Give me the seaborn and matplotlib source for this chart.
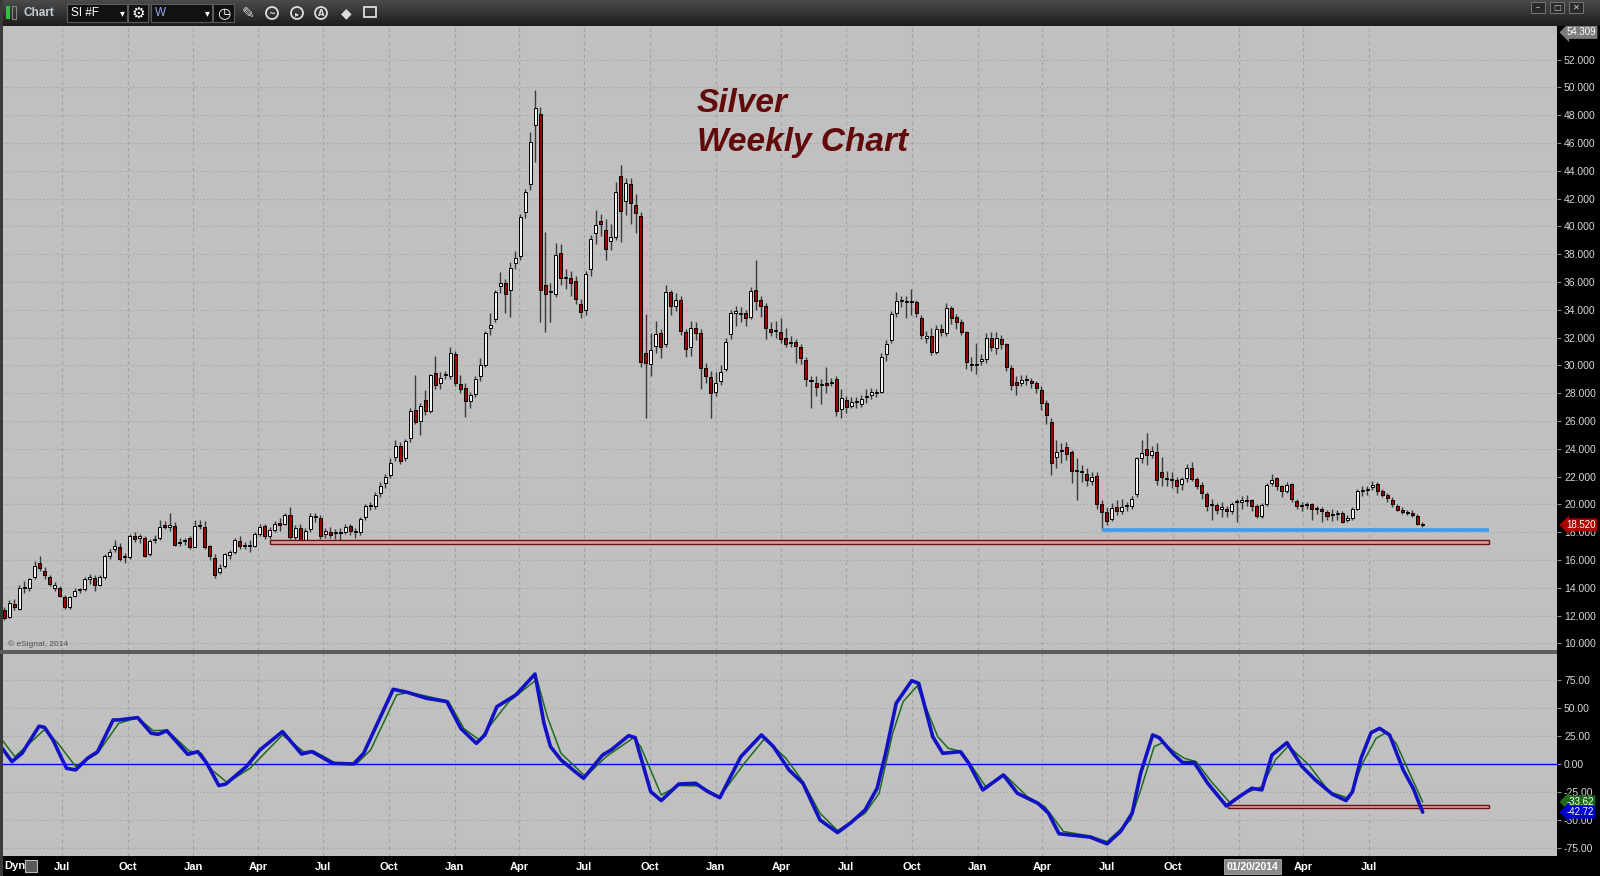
import numpy as np
import pandas as pd
import matplotlib
matplotlib.use("Agg")
import matplotlib.pyplot as plt
import matplotlib.dates as mdates
import matplotlib.transforms as mtrans
from matplotlib.patches import Rectangle, Circle
from matplotlib.colors import LinearSegmentedColormap
from matplotlib.ticker import FormatStrFormatter
import seaborn as sns

# ---- weekly SI #F candles, first bar = week of 2009-04-12 ----
first_week = "2009-04-12"
opens = [12.4, 11.9, 12.8, 12.5, 14.0, 14.0, 14.8, 15.75, 15.2, 14.8,
         14.0, 14.0, 13.35, 12.65, 13.4, 13.85, 13.9, 14.6, 14.7, 14.2,
         14.8, 16.3, 16.8, 16.9, 16.25, 16.2, 17.7, 17.6, 17.6, 16.4,
         17.4, 17.55, 18.5, 18.35, 18.45, 17.25, 17.35, 17.55, 16.95, 18.5,
         18.4, 17.0, 16.15, 15.15, 15.6, 16.35, 16.55, 17.35, 17.0, 17.05,
         17.0, 17.85, 18.45, 17.7, 18.15, 18.65, 18.6, 19.25, 17.65, 18.3,
         17.4, 18.25, 19.1, 19.0, 17.9, 18.0, 17.95, 18.0, 18.0, 18.45,
         18.05, 18.0, 19.1, 19.85, 19.9, 20.85, 21.5, 22.1, 23.4, 24.2,
         23.3, 24.8, 26.8, 26.0, 27.5, 26.75, 29.45, 28.7, 29.3, 29.2,
         30.8, 28.65, 28.4, 27.4, 27.95, 29.2, 30.0, 32.7, 33.3, 35.7,
         35.9, 35.4, 37.35, 37.9, 41.0, 43.05, 47.3, 48.1, 35.8, 35.3,
         35.1, 38.05, 36.35, 36.25, 36.05, 34.4, 34.0, 36.9, 39.5, 40.4,
         39.7, 38.95, 39.2, 43.65, 41.85, 43.05, 41.5, 40.75, 30.9, 30.1,
         31.4, 32.3, 31.55, 35.25, 34.25, 34.7, 32.4, 31.35, 32.7, 32.3,
         29.8, 29.15, 28.05, 28.9, 29.75, 32.25, 33.8, 33.75, 33.75, 33.45,
         35.45, 34.7, 34.3, 32.6, 32.45, 32.4, 31.95, 31.6, 31.65, 31.3,
         30.35, 28.85, 28.7, 28.55, 28.7, 28.75, 29.0, 26.85, 27.5, 27.1,
         27.35, 27.2, 27.7, 27.85, 28.0, 28.1, 30.85, 31.8, 33.8, 34.6,
         34.6, 34.6, 34.55, 33.4, 32.0, 32.1, 30.95, 32.6, 32.3, 34.1,
         33.5, 33.1, 32.4, 30.0, 30.05, 30.3, 30.45, 31.95, 31.25, 31.9,
         31.5, 29.8, 28.8, 28.75, 28.95, 28.9, 28.7, 28.2, 27.3, 25.9,
         23.4, 23.85, 24.15, 23.75, 22.4, 22.35, 22.2, 21.65, 22.05, 20.0,
         19.45, 18.95, 19.8, 19.55, 19.85, 19.9, 20.75, 23.3, 24.0, 23.55,
         23.8, 22.3, 21.85, 21.8, 21.75, 21.45, 21.9, 22.6, 21.85, 21.4,
         20.75, 19.95, 19.95, 19.7, 19.65, 19.5, 20.15, 20.2, 20.25, 20.3,
         19.9, 19.15, 20.0, 21.5, 21.9, 21.3, 20.95, 21.45, 20.25, 19.9,
         20.0, 20.0, 19.7, 19.7, 19.45, 19.25, 19.3, 19.4, 18.9, 19.05,
         19.7, 20.95, 21.05, 21.25, 21.45, 20.95, 20.65, 20.3, 19.9, 19.6,
         19.45, 19.4, 19.15, 18.55]
closes = [11.8, 12.9, 12.6, 14.0, 14.05, 14.6, 15.6, 15.45, 14.9, 14.25,
          14.2, 13.4, 12.65, 13.35, 13.8, 13.9, 14.6, 14.75, 14.2, 14.8,
          16.3, 16.6, 17.0, 16.1, 16.2, 17.7, 17.5, 17.75, 16.3, 17.35,
          17.45, 18.4, 18.35, 18.5, 17.1, 17.2, 17.4, 16.9, 18.45, 18.45,
          16.95, 16.25, 14.9, 15.45, 16.4, 16.55, 17.4, 17.0, 17.05, 17.0,
          17.85, 18.35, 17.7, 18.15, 18.6, 18.5, 19.2, 17.65, 18.3, 17.4,
          18.1, 19.15, 19.15, 17.75, 18.05, 17.8, 18.0, 17.95, 18.35, 18.1,
          18.0, 18.95, 19.85, 19.9, 20.7, 21.3, 22.0, 23.0, 24.2, 23.15,
          24.55, 26.7, 25.9, 27.1, 26.7, 29.3, 28.6, 29.1, 29.35, 30.9,
          28.7, 28.3, 27.4, 27.9, 29.05, 30.0, 32.3, 32.9, 35.3, 35.9,
          35.1, 37.0, 37.7, 40.7, 42.5, 46.05, 48.5, 35.4, 35.1, 35.25,
          37.95, 36.3, 36.3, 35.9, 34.75, 33.85, 36.6, 39.1, 40.1, 40.2,
          38.35, 39.2, 42.5, 41.1, 43.1, 41.7, 40.95, 30.25, 30.2, 31.1,
          32.25, 31.35, 35.3, 34.25, 34.7, 32.5, 31.2, 32.7, 32.35, 29.8,
          29.2, 28.0, 28.7, 29.55, 31.7, 33.8, 33.85, 33.7, 33.4, 35.35,
          34.65, 34.3, 32.7, 32.4, 32.5, 31.9, 31.55, 31.65, 31.4, 30.5,
          29.0, 28.9, 28.45, 28.6, 28.55, 28.8, 26.7, 27.65, 27.0, 27.35,
          27.4, 27.55, 27.75, 28.1, 28.05, 30.6, 31.5, 33.7, 34.6, 34.65,
          34.55, 34.55, 33.75, 32.15, 32.05, 30.95, 32.6, 32.4, 34.1, 33.4,
          33.15, 32.4, 30.25, 30.05, 30.1, 30.45, 32.0, 31.3, 31.95, 31.55,
          29.9, 28.55, 28.55, 28.95, 29.0, 28.75, 28.35, 27.3, 26.4, 23.0,
          23.75, 23.9, 23.65, 22.4, 22.45, 22.3, 21.75, 21.95, 20.0, 19.45,
          18.8, 19.75, 19.55, 19.8, 19.9, 20.35, 23.3, 23.7, 23.55, 23.85,
          21.75, 22.0, 21.9, 21.75, 21.35, 21.85, 22.6, 21.85, 21.3, 20.8,
          19.85, 20.0, 19.6, 19.75, 19.5, 20.0, 20.2, 20.25, 20.3, 19.85,
          19.15, 19.95, 21.4, 21.75, 21.3, 20.95, 21.4, 20.35, 19.85, 19.95,
          19.95, 19.65, 19.65, 19.55, 19.15, 19.3, 19.35, 18.75, 19.05, 19.65,
          20.95, 21.0, 21.1, 21.4, 20.95, 20.7, 20.45, 20.0, 19.6, 19.45,
          19.35, 19.25, 18.6, 18.52]
highs = [12.6, 13.1, 13.2, 14.2, 14.5, 14.7, 15.9, 16.25, 15.5, 14.9,
         14.4, 14.1, 13.5, 13.4, 14.0, 14.0, 14.8, 15.0, 14.9, 14.9,
         16.4, 16.8, 17.4, 17.2, 16.5, 17.9, 18.0, 17.9, 17.7, 17.5,
         17.8, 18.9, 18.8, 19.4, 18.7, 17.6, 17.6, 17.7, 18.9, 18.85,
         18.8, 17.1, 16.4, 15.7, 16.5, 16.7, 17.6, 17.7, 17.3, 17.4,
         18.0, 18.6, 18.6, 18.4, 18.8, 19.0, 19.4, 19.8, 18.5, 18.6,
         18.3, 19.4, 19.4, 19.2, 18.3, 18.4, 18.2, 18.3, 18.6, 18.6,
         18.3, 19.1, 20.0, 20.2, 20.9, 21.6, 22.2, 23.3, 24.6, 24.5,
         24.7, 26.9, 29.3, 27.3, 28.2, 29.4, 30.7, 29.5, 29.6, 31.3,
         31.0, 29.3, 28.7, 28.1, 29.2, 30.5, 32.5, 33.8, 35.4, 36.7,
         36.2, 37.4, 38.2, 40.9, 42.7, 46.8, 49.8, 48.6, 39.6, 35.9,
         38.8, 38.7, 36.9, 36.8, 36.4, 34.8, 36.8, 39.4, 41.2, 40.9,
         40.5, 40.2, 43.2, 44.4, 43.5, 43.5, 42.3, 41.0, 33.7, 32.3,
         33.2, 32.6, 35.8, 35.4, 35.2, 35.0, 32.6, 33.2, 33.1, 32.6,
         30.2, 29.6, 29.5, 30.0, 32.0, 34.0, 34.3, 34.2, 34.0, 35.6,
         37.6, 35.0, 34.5, 33.1, 33.2, 33.4, 32.7, 32.1, 31.9, 31.5,
         30.6, 29.2, 29.2, 29.0, 29.9, 29.1, 29.2, 28.3, 27.8, 27.7,
         27.7, 27.9, 28.3, 28.4, 28.3, 30.9, 31.8, 33.9, 35.25, 35.0,
         35.0, 35.5, 34.7, 33.6, 32.5, 32.7, 32.9, 33.0, 34.5, 34.3,
         33.7, 33.3, 32.5, 30.6, 31.6, 30.8, 32.3, 32.4, 32.4, 32.2,
         31.6, 30.0, 29.2, 29.3, 29.3, 29.1, 28.9, 28.5, 27.5, 26.2,
         24.6, 24.4, 24.5, 23.9, 23.3, 22.8, 22.6, 22.3, 22.3, 20.3,
         19.8, 20.1, 20.3, 20.4, 20.2, 20.6, 23.4, 24.6, 25.1, 24.2,
         24.4, 23.4, 22.4, 22.3, 22.0, 22.0, 22.9, 23.05, 22.0, 21.6,
         20.9, 20.4, 20.1, 20.2, 19.9, 20.2, 20.4, 20.6, 20.7, 20.4,
         20.0, 20.1, 21.5, 22.2, 22.0, 21.4, 21.6, 21.5, 20.4, 20.2,
         20.2, 20.1, 19.9, 19.8, 19.6, 19.7, 19.6, 19.5, 19.2, 19.8,
         21.1, 21.3, 21.3, 21.7, 21.6, 21.1, 20.8, 20.5, 20.0, 19.8,
         19.6, 19.6, 19.3, 18.7]
lows = [11.7, 11.8, 12.4, 12.4, 13.6, 13.8, 14.6, 15.2, 14.6, 14.1,
        13.8, 13.3, 12.5, 12.5, 13.3, 13.6, 13.8, 14.3, 13.8, 14.1,
        14.6, 16.1, 16.6, 15.9, 15.8, 16.1, 17.3, 17.2, 16.2, 16.3,
        17.2, 17.4, 18.2, 18.1, 17.0, 17.0, 17.1, 16.8, 16.9, 18.2,
        16.8, 16.0, 14.7, 15.0, 15.4, 16.1, 16.4, 16.8, 16.8, 16.6,
        16.9, 17.7, 17.5, 17.5, 18.0, 18.1, 18.5, 17.5, 17.4, 17.2,
        17.3, 18.0, 18.7, 17.5, 17.6, 17.6, 17.5, 17.4, 17.9, 17.8,
        17.6, 17.8, 18.9, 19.6, 19.7, 20.5, 21.2, 21.9, 23.1, 22.9,
        23.1, 24.5, 25.8, 25.0, 26.4, 26.6, 28.3, 28.3, 29.0, 29.0,
        28.5, 28.0, 26.3, 26.9, 27.7, 28.9, 29.9, 32.2, 33.1, 35.2,
        33.8, 33.5, 36.9, 37.6, 40.6, 42.6, 44.6, 33.1, 32.4, 33.1,
        34.9, 35.8, 35.5, 35.0, 34.4, 33.4, 33.6, 36.4, 38.7, 39.3,
        37.6, 38.3, 39.0, 38.9, 40.8, 40.2, 39.5, 29.9, 26.2, 29.2,
        30.9, 30.5, 31.3, 33.6, 33.9, 32.2, 30.6, 30.7, 31.8, 28.3,
        28.7, 26.2, 27.8, 28.6, 29.6, 31.9, 32.8, 33.1, 32.8, 33.3,
        34.0, 33.5, 31.9, 32.1, 32.0, 31.6, 31.3, 31.3, 30.2, 30.1,
        28.5, 26.9, 27.8, 27.2, 28.0, 28.5, 26.35, 26.2, 26.6, 26.9,
        26.9, 27.0, 27.3, 27.6, 27.7, 28.0, 30.3, 31.6, 33.5, 34.2,
        33.4, 33.6, 33.5, 31.9, 31.6, 30.75, 30.8, 32.1, 32.1, 33.0,
        32.6, 32.2, 29.7, 29.6, 29.35, 30.0, 30.2, 31.0, 30.8, 31.2,
        29.6, 28.2, 27.9, 28.5, 28.6, 28.4, 28.0, 26.8, 25.8, 22.1,
        22.6, 23.0, 23.2, 21.5, 20.3, 21.6, 21.3, 21.4, 19.7, 18.15,
        18.5, 18.8, 19.2, 19.3, 19.5, 19.7, 20.5, 23.0, 22.8, 23.3,
        21.4, 21.3, 21.3, 21.2, 20.8, 21.0, 21.6, 21.7, 21.1, 20.4,
        19.5, 18.9, 19.3, 19.1, 19.1, 19.3, 18.75, 19.7, 19.9, 19.5,
        19.0, 19.0, 19.9, 21.3, 21.0, 20.5, 20.8, 20.2, 19.7, 19.5,
        19.7, 18.9, 19.3, 18.75, 18.9, 18.8, 18.9, 18.63, 18.75, 18.9,
        19.6, 20.6, 20.7, 21.0, 20.7, 20.5, 20.2, 19.8, 19.5, 19.3,
        19.2, 19.1, 18.5, 18.4]

# ---- oscillator (week index, value) ----
fast_wk = [-0.7, 1.5, 3.5, 6.9, 8, 9.7, 11.4, 12.4, 14.2, 16.6, 18.6, 21.7, 22.8, 26.6,
           29.3, 30.7, 32.4, 36.6, 38.6, 40.4, 42.8, 44.2, 48.3, 51, 55.5, 59.3, 61.4,
           65.5, 69.7, 71.7, 77.6, 80.4, 84.2, 88.3, 91.1, 94.2, 95.9, 98.3, 102.1, 105.9,
           107.7, 109, 111.1, 113.9, 115.6, 119.4, 121.1, 124.6, 125.9, 129, 131.1, 134.6,
           138, 140.4, 142.8, 147, 151.1, 153.5, 156.6, 159.4, 162.8, 166.3, 169, 171.8,
           174.2, 175.9, 178, 181.1, 182.5, 185.3, 187.3, 190.8, 192.5, 195.3, 199.4,
           202.2, 206.3, 208.4, 210.5, 216.7, 220.1, 222.8, 225.1, 226.8, 229.2, 230.5,
           233.5, 235.2, 237.5, 240.2, 243.9, 246.3, 249, 251, 253, 256, 259, 261.7,
           265.1, 267.8, 269.1, 270.8, 272.8, 274.5, 276.5, 279.2, 281.2, 283.1]
fast = [15.8, 2.4, 9.8, 34, 33, 21.7, 5.4, -3.6, -5, 5.4, 11.3, 39.6, 39.6, 41.7,
        27.7, 26.8, 30, 8.9, 11.3, 0.9, -19, -17.6, -2, 12.8, 29.2, 9.2, 11.3,
        0.9, 0.3, 9.8, 67, 64.3, 59, 56, 32, 18.7, 26.2, 51.5, 62, 80.6,
        36.6, 15.8, 3.9, -6.5, -12.5, 8.3, 12.8, 25.6, 23.8, -24.4, -32.4, -17.6,
        -17, -24.4, -29.8, 6.8, 26.2, 15.8, -5, -17, -49.7, -61, -52, -40.8,
        -21.4, 9.8, 54.5, 74.7, 72.3, 24.7, 9.8, 11.3, 0.9, -22.9, -9.5,
        -25.9, -34.8, -43.7, -62, -65, -71, -60, -43.7, -8, 26.2, 23.8,
        8.3, 1.5, 1.5, -17, -37.2, -29.5, -21.4, -22.9, 8.3, 19.3, -2, -14,
        -26.8, -32.4, -24.4, 5.4, 28.3, 32.1, 26.2, -5, -21.4, -42.72]
slow_wk = [-0.7, 2.1, 8, 10.7, 14.2, 18.6, 22.8, 26.6, 29.7, 32.4, 36.9, 39.3, 41.4,
           44.5, 49, 55.5, 59.7, 61.7, 66.2, 70.4, 73.1, 78.3, 80.8, 88.6, 91.7, 94.8,
           97.3, 100.7, 106.3, 108.4, 111.1, 116, 120.1, 125.6, 127, 131.1, 134.6, 138.7,
           142.8, 147.7, 151.8, 156, 159.4, 162.8, 166.3, 171.8, 174.6, 177.3, 179.4,
           182.2, 186.3, 188.4, 191.1, 195.9, 199.7, 204.2, 207.7, 211.4, 216.7, 220.1,
           224.8, 226.8, 229.5, 231.2, 233.5, 235.5, 237.9, 240.9, 244.6, 247.6, 251,
           253.7, 256.3, 260.4, 264.4, 268.4, 271.1, 273.8, 275.8, 277.8, 280.5, 283.1]
slow = [23, 6.8, 31, 18.7, -2, 9.8, 36.6, 41.7, 30, 30.6, 11.9, 9.8, -5,
        -16.4, -3.6, 26.2, 11.3, 11.9, 0.9, 0.9, 12.8, 62, 64.3, 56.5, 32, 21.7,
        36.6, 56, 75.9, 42, 9.8, -11, 6.8, 23.8, 15.8, -27.4, -19, -19.3,
        -28.9, 0.9, 23.2, 5.4, -15.5, -43.7, -59.2, -43.7, -25.9, 27.7, 56,
        70, 24.7, 14.3, 11.3, -20, -9.5, -28.9, -37.8, -60, -64, -69,
        -49.7, -23, 15.8, 19.3, 11.3, 5.4, 2.4, -15.5, -34.2, -25.9, -20,
        3.9, 16.4, -0.6, -24.4, -30.4, 0.9, 23.2, 28.3, 18.7, -8, -33.62]

# ---- drawn levels ----
support_price = 18.15
support_from = "2013-06-23"
band_low, band_high = 17.17, 17.45
band_from = "2010-04-18"
levels_to = "2014-12-16"
osc_band = (-39.3, -36.3)
osc_band_from = "2013-12-17"
cursor_day = "2014-01-20"
top_price = 54.309

sns.set_style("white")
plt.rcParams["font.family"] = ["Liberation Sans", "DejaVu Sans"]
plt.rcParams["axes.unicode_minus"] = False

W, H = 1600, 876
fig = plt.figure(figsize=(16, 8.76), dpi=100, facecolor="black")


def box(l, t, r, b):
    return [l / W, 1 - b / H, (r - l) / W, (b - t) / H]


d = lambda s: mdates.date2num(pd.Timestamp(s))
jul09 = d("2009-07-01")
px2x = lambda px: jul09 + (px - 61.7) * 1.3973

ax = fig.add_axes(box(3, 26, 1557, 651), facecolor="#c0c0c0")
osc = fig.add_axes(box(3, 653, 1557, 856), facecolor="#c0c0c0")

quarters = pd.date_range("2009-07-01", "2014-07-01", freq="QS")
qx = mdates.date2num(quarters)
qlab = ["" if (q.year == 2014 and q.month == 1) else q.strftime("%b") for q in quarters]

for a in (ax, osc):
    a.set_xlim(px2x(3), px2x(1557))
    a.set_xticks(qx)
    a.grid(axis="x", color="#a2a2a2", ls=(0, (3, 3)), lw=0.8)
    a.grid(axis="y", color="#a0a0a0", ls=(0, (1, 2)), lw=0.8)
    a.yaxis.tick_right()
    a.tick_params(axis="y", colors="#888888", labelcolor="#d8d8d8", labelsize=7.5,
                  length=3, pad=2)
    a.set_axisbelow(True)
    for s in a.spines.values():
        s.set_visible(False)

ax.set_ylim(9.45, 54.41)
ax.set_yticks(np.arange(10, 53, 2))
ax.yaxis.set_major_formatter(FormatStrFormatter("%.3f"))
ax.tick_params(axis="x", length=0, labelbottom=False)

# candles
n = len(closes)
o = np.array(opens); c = np.array(closes)
x = d(first_week) + 7 * np.arange(n)
ax.vlines(x, lows, highs, color="#3a3a3a", lw=1, zorder=2)
up = c >= o
ax.bar(x, np.maximum(np.abs(c - o), 0.08), bottom=np.minimum(o, c), width=4.2,
       color=np.where(up, "#f2f2f2", "#a30000"), edgecolor="black", linewidth=0.7, zorder=3)

ax.add_patch(Rectangle((d(band_from), band_low), d(levels_to) - d(band_from), band_high - band_low,
                       facecolor="#d8a2a2", edgecolor="#6e1010", lw=1, zorder=4))
ax.hlines(support_price, d(support_from), d(levels_to), color="#3d9ded", lw=2.6, zorder=4)

ty = mtrans.blended_transform_factory(ax.transAxes, ax.transData)
ax.text(1.006, top_price, f"{top_price:.3f}", transform=ty, color="white", fontsize=7,
        va="top", ha="left", clip_on=False, zorder=6,
        bbox=dict(boxstyle="larrow,pad=0.15", fc="#7c7c7c", ec="none"))
ax.text(1.006, closes[-1], f"{closes[-1]:.3f}", transform=ty, color="white", fontsize=7,
        va="center", ha="left", clip_on=False, zorder=6,
        bbox=dict(boxstyle="larrow,pad=0.15", fc="#b00000", ec="none"))

fig.text(697 / W, 1 - 112 / H, "Silver", fontsize=24, fontweight="bold", fontstyle="italic",
         color="#620a0a", va="baseline")
fig.text(697 / W, 1 - 151 / H, "Weekly Chart", fontsize=24, fontweight="bold",
         fontstyle="italic", color="#620a0a", va="baseline")
fig.text(8 / W, 1 - 644 / H, "\u00a9 eSignal, 2014", fontsize=6, color="#505050", va="center")

# oscillator
osc.set_ylim(-81.9, 99.4)
osc.set_yticks([-75, -50, -25, 0, 25, 50, 75])
osc.yaxis.set_major_formatter(FormatStrFormatter("%.2f"))
osc.set_xticklabels(qlab)
osc.tick_params(axis="x", length=0, labelcolor="white", labelsize=8, pad=4)
for t in osc.get_xticklabels():
    t.set_fontweight("bold")
osc.axhline(0, color="#0000ff", lw=1, zorder=2)
osc.add_patch(Rectangle((d(osc_band_from), osc_band[0]), d(levels_to) - d(osc_band_from),
                        osc_band[1] - osc_band[0], facecolor="#d8a2a2", edgecolor="#6e1010",
                        lw=1, zorder=3))
x0 = d(first_week)
sns.lineplot(x=x0 + 7 * np.array(slow_wk), y=slow, ax=osc, color="#1d6b1d", linewidth=1.1,
             estimator=None, sort=False, zorder=4)
sns.lineplot(x=x0 + 7 * np.array(fast_wk), y=fast, ax=osc, color="#1212c4", linewidth=2.6,
             estimator=None, sort=False, zorder=5)
osc.set_xlabel(""); osc.set_ylabel("")
to = mtrans.blended_transform_factory(osc.transAxes, osc.transData)
osc.text(1.006, slow[-1], f"{slow[-1]:.2f}", transform=to, color="white", fontsize=7,
         va="center", ha="left", clip_on=False, zorder=6,
         bbox=dict(boxstyle="larrow,pad=0.15", fc="#1d6b1d", ec="none"))
osc.text(1.006, fast[-1], f"{fast[-1]:.2f}", transform=to, color="white", fontsize=7,
         va="center", ha="left", clip_on=False, zorder=6,
         bbox=dict(boxstyle="larrow,pad=0.15", fc="#0000d0", ec="none"))
tc = mtrans.blended_transform_factory(osc.transData, osc.transAxes)
osc.text(d(cursor_day), -0.052, pd.Timestamp(cursor_day).strftime("%m/%d/%Y"), transform=tc,
         ha="center", va="center", color="white", fontsize=7.5, fontweight="bold",
         clip_on=False, bbox=dict(boxstyle="square,pad=0.25", fc="#8a8a8a", ec="#b0b0b0", lw=0.6))

# frame pieces
fig.patches.append(Rectangle((0, 0), 3 / W, 1, transform=fig.transFigure, fc="#3a3a3a",
                             ec="none", zorder=5))
fig.patches.append(Rectangle((0, 1 - 654 / H), 1557 / W, 4 / H, transform=fig.transFigure,
                             fc="#5c5c5c", ec="none", zorder=5))

# toolbar
tb = fig.add_axes(box(0, 0, 1600, 26))
tb.set_xlim(0, 1600); tb.set_ylim(26, 0); tb.axis("off")
tb.imshow(np.linspace(0, 1, 26)[:, None], cmap=LinearSegmentedColormap.from_list("tb", ["#4a4a4a", "#1e1e1e"]),
          extent=[0, 1600, 26, 0], aspect="auto")
tb.add_patch(Rectangle((6, 6), 4, 13, fc="#32c040", ec="none"))
tb.add_patch(Rectangle((12, 6), 4, 13, fc="none", ec="#888888", lw=0.8))
tb.text(23, 13.5, "Chart", color="#c5ccd6", fontsize=8.5, fontweight="bold", va="center")
for l, r in [(67, 127), (128, 148), (151, 212), (213, 234)]:
    tb.add_patch(Rectangle((l, 4), r - l, 18, fc="#111111", ec="#5a5a5a", lw=0.8))
tb.text(71, 13.5, "SI #F", color="white", fontsize=8.5, va="center")
tb.text(155, 13.5, "W", color="#8fa6ef", fontsize=8.5, va="center")
for xx in (120, 205):
    tb.text(xx, 13.5, "\u25be", color="white", fontsize=7, va="center", family="DejaVu Sans")
tb.text(138, 13.5, "\u2699", color="white", fontsize=11, va="center", ha="center", family="DejaVu Sans")
tb.text(223.5, 13.5, "\u25f7", color="white", fontsize=11, va="center", ha="center", family="DejaVu Sans")
tb.text(248, 13.5, "\u270e", color="#dddddd", fontsize=11, va="center", ha="center", family="DejaVu Sans")
for xx, g in [(272, "~"), (297, "\u25b8"), (321, "A")]:
    tb.add_patch(Circle((xx, 13), 6, fc="none", ec="#dddddd", lw=1.3))
    tb.text(xx, 13.5, g, color="#dddddd", fontsize=6, va="center", ha="center",
            fontweight="bold", family="DejaVu Sans")
tb.text(346, 13.5, "\u25c6", color="#dddddd", fontsize=10, va="center", ha="center", family="DejaVu Sans")
tb.add_patch(Rectangle((364, 7), 12, 10, fc="none", ec="#dddddd", lw=1.3))
for xx, g in [(1538, "\u2013"), (1557, "\u25a1"), (1576, "\u2715")]:
    tb.add_patch(Rectangle((xx - 7, 2), 14, 11, fc="#2a2a2a", ec="#777777", lw=0.7))
    tb.text(xx, 7.5, g, color="#cccccc", fontsize=6, va="center", ha="center", family="DejaVu Sans")

# bottom bar
fig.text(4 / W, 1 - 866 / H, "Dyn", color="white", fontsize=8, fontweight="bold", va="center")
fig.patches.append(Rectangle((25 / W, 1 - 872 / H), 12 / W, 12 / H, transform=fig.transFigure,
                             fc="#5a5a5a", ec="#bbbbbb", lw=0.8, zorder=5))

fig.savefig("out.png", dpi=100, facecolor=fig.get_facecolor())
